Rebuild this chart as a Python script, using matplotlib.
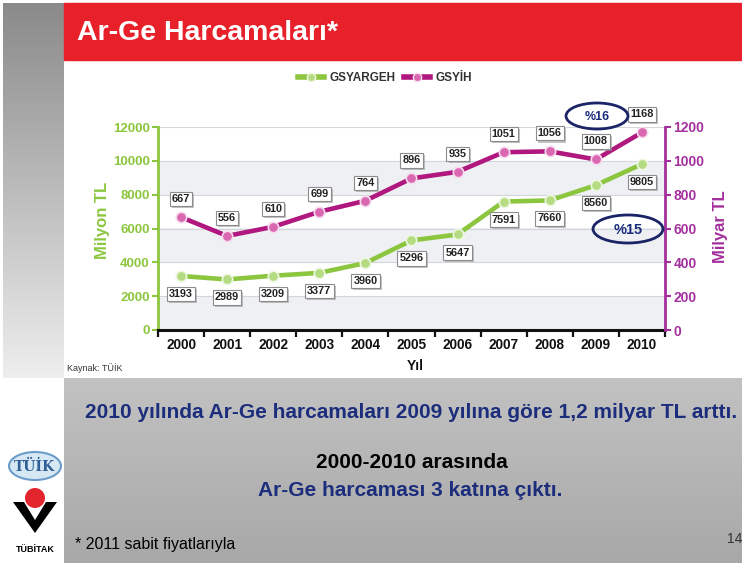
import matplotlib
matplotlib.use('Agg')
import matplotlib.pyplot as plt
import matplotlib.patheffects as pe
import numpy as np
from matplotlib.patches import Rectangle, Ellipse, Polygon, Circle
from matplotlib.lines import Line2D

plt.rcParams['font.family'] = ['Liberation Sans', 'DejaVu Sans']

# ---------------- data ----------------
years = ['2000', '2001', '2002', '2003', '2004', '2005', '2006', '2007', '2008', '2009', '2010']
gsyargeh = [3193, 2989, 3209, 3377, 3960, 5296, 5647, 7591, 7660, 8560, 9805]   # Milyon TL
gsyih = [667, 556, 610, 699, 764, 896, 935, 1051, 1056, 1008, 1168]             # Milyar TL
left_ticks = [0, 2000, 4000, 6000, 8000, 10000, 12000]
right_ticks = [0, 200, 400, 600, 800, 1000, 1200]
series_names = ['GSYARGEH', 'GSYİH']

GREEN = '#8cc63f'
GREEN_L = '#b5dc82'
MAG = '#b0177f'
MAG_L = '#d968b0'
PURP = '#a3309c'
NAVY = '#1c2d7c'

W, H = 742, 565
fig = plt.figure(figsize=(W / 100, H / 100), dpi=100)

# ---------------- slide background ----------------
bg = fig.add_axes([0, 0, 1, 1], zorder=0)
bg.set_xlim(0, W)
bg.set_ylim(H, 0)
bg.axis('off')

def vgrad(ax, x0, x1, y0, y1, c_top, c_bot):
    g = np.linspace(0, 1, 256)[:, None]
    ct = np.array(matplotlib.colors.to_rgb(c_top))
    cb = np.array(matplotlib.colors.to_rgb(c_bot))
    img = ct[None, None, :] * (1 - g[:, :, None]) + cb[None, None, :] * g[:, :, None]
    ax.imshow(img, extent=(x0, x1, y1, y0), origin='upper', aspect='auto', zorder=1)

vgrad(bg, 3, 64, 3, 378, '#8a8a8a', '#eeeeee')
bg.add_patch(Rectangle((64, 3), W - 64, 57, color='#e8202a', zorder=2))
vgrad(bg, 64, W, 378, 563, '#c2c2c2', '#a8a8a8')
bg.set_xlim(0, W)
bg.set_ylim(H, 0)

bg.text(77, 33, 'Ar-Ge Harcamaları*', color='white', fontsize=20.5, fontweight='bold',
        ha='left', va='center', zorder=3)

bg.text(67, 368, 'Kaynak: TÜİK', fontsize=6.5, color='#333333', ha='left', va='center', zorder=3)

bg.text(411, 413, '2010 yılında Ar-Ge harcamaları 2009 yılına göre 1,2 milyar TL arttı.',
        color=NAVY, fontsize=15, fontweight='bold', ha='center', va='center', zorder=3)
bg.text(412, 462, '2000-2010 arasında', color='black', fontsize=15, fontweight='bold',
        ha='center', va='center', zorder=3)
bg.text(410, 491, 'Ar-Ge harcaması 3 katına çıktı.', color=NAVY, fontsize=15,
        fontweight='bold', ha='center', va='center', zorder=3)
bg.text(75, 545, '* 2011 sabit fiyatlarıyla', color='black', fontsize=11.5,
        ha='left', va='center', zorder=3)
bg.text(742, 539, '14', color='#333333', fontsize=10, ha='right', va='center', zorder=3)

# logos
bg.add_patch(Ellipse((35, 466), 52, 28, fc='#d6e8f4', ec='#6b9cc9', lw=1.5, zorder=3))
bg.text(35, 467, 'TÜİK', family=['DejaVu Serif'], fontweight='bold', fontsize=10,
        color='#2f5f94', ha='center', va='center', zorder=4)
bg.add_patch(Polygon([(13, 502), (24, 502), (35, 520), (46, 502), (57, 502), (35, 533)],
                     closed=True, fc='black', ec='none', zorder=3))
bg.add_patch(Circle((35, 498), 10, fc='#e3262e', ec='none', zorder=4))
bg.text(35, 549, 'TÜBİTAK', fontsize=6.5, fontweight='bold', color='black',
        ha='center', va='center', zorder=4)

# ---------------- chart ----------------
ax = fig.add_axes([158 / W, 1 - 330 / H, (665 - 158) / W, (330 - 127) / H], zorder=2)
x = np.arange(len(years))
ax.set_xlim(-0.5, len(years) - 0.5)
ax.set_ylim(left_ticks[0], left_ticks[-1])
ax.set_facecolor('white')

for i in range(len(left_ticks) - 1):
    if i % 2 == 0:
        ax.axhspan(left_ticks[i], left_ticks[i + 1], color='#eef0f3', zorder=0, lw=0)
ax.set_yticks(left_ticks)
ax.yaxis.grid(True, color='#d3d6da', lw=0.8, zorder=0.5)
ax.set_axisbelow(True)

ax2 = ax.twinx()
ax2.set_ylim(right_ticks[0], right_ticks[-1])
ax2.set_yticks(right_ticks)

ax.plot(x, gsyargeh, color=GREEN, lw=3.3, marker='o', ms=7.5, mfc=GREEN_L,
        mec='#eef7e2', mew=1.2, zorder=3, solid_capstyle='round')
ax2.plot(x, gsyih, color=MAG, lw=3.3, marker='o', ms=7.5, mfc=MAG_L,
         mec='#f6dcee', mew=1.2, zorder=3, solid_capstyle='round')

def label(axis, xi, yi, dy):
    t = axis.annotate(str(yi), (xi, yi), xytext=(0, dy), textcoords='offset points',
                      ha='center', va='center', fontsize=7.8, fontweight='bold', color='#222222',
                      bbox=dict(boxstyle='square,pad=0.2', fc='white', ec='#8c8c8c', lw=0.8),
                      zorder=5)
    t.get_bbox_patch().set_path_effects([
        pe.SimplePatchShadow(offset=(1.5, -1.5), shadow_rgbFace='#9a9a9a', alpha=0.6),
        pe.Normal()])

for xi, v in zip(x, gsyargeh):
    label(ax, xi, v, -13)
for xi, v in zip(x, gsyih):
    label(ax2, xi, v, 13)

# axes styling
for s in ['top', 'right']:
    ax.spines[s].set_visible(False)
ax.spines['left'].set_color(GREEN)
ax.spines['left'].set_linewidth(2)
ax.spines['bottom'].set_color('#111111')
ax.spines['bottom'].set_linewidth(2.2)
for s in ['top', 'left', 'bottom']:
    ax2.spines[s].set_visible(False)
ax2.spines['right'].set_color(PURP)
ax2.spines['right'].set_linewidth(2)

ax.tick_params(axis='y', colors=GREEN, length=4, width=1.5, pad=2, labelsize=9.5)
for t in ax.get_yticklabels():
    t.set_fontweight('bold')
ax2.tick_params(axis='y', colors=PURP, length=4, width=1.5, pad=2, labelsize=10)
for t in ax2.get_yticklabels():
    t.set_fontweight('bold')

ax.set_xticks(x)
ax.set_xticklabels(years, fontweight='bold', fontsize=9.8, color='#111111')
ax.tick_params(axis='x', which='major', length=0, pad=6)
ax.set_xticks(np.arange(-0.5, len(years), 1), minor=True)
ax.tick_params(axis='x', which='minor', length=5, width=1.6, color='#111111', direction='out')

fig.text(102 / W, 1 - 220 / H, 'Milyon TL', rotation=90, color=GREEN, fontsize=12,
         fontweight='bold', ha='center', va='center')
fig.text(720 / W, 1 - 227 / H, 'Milyar TL', rotation=90, color=PURP, fontsize=12,
         fontweight='bold', ha='center', va='center')
fig.text(415 / W, 1 - 366 / H, 'Yıl', color='#111111', fontsize=10, fontweight='bold',
         ha='center', va='center')

# legend
handles = [Line2D([], [], color=GREEN, lw=4, marker='o', ms=6, mfc=GREEN_L, mec='#eef7e2'),
           Line2D([], [], color=MAG, lw=4, marker='o', ms=6, mfc=MAG_L, mec='#f6dcee')]
fig.legend(handles, series_names, loc='center', bbox_to_anchor=(385 / W, 1 - 78 / H), ncol=2,
           frameon=False, prop=dict(weight='bold', size=8.5), handlelength=2.2,
           columnspacing=0.8, handletextpad=0.4, labelcolor='#333333')

# ---------------- highlight ellipses ----------------
ov = fig.add_axes([0, 0, 1, 1], zorder=10)
ov.set_xlim(0, W)
ov.set_ylim(H, 0)
ov.axis('off')
ov.patch.set_alpha(0)
ov.add_patch(Ellipse((597, 116), 62, 26, fc='none', ec='#1b2466', lw=2))
ov.text(597, 117, '%16', color=NAVY, fontsize=9, fontweight='bold', ha='center', va='center')
ov.add_patch(Ellipse((628, 229), 70, 28, fc='none', ec='#1b2466', lw=2))
ov.text(628, 230, '%15', color=NAVY, fontsize=10.5, fontweight='bold', ha='center', va='center')

fig.savefig('out.png', dpi=100)
